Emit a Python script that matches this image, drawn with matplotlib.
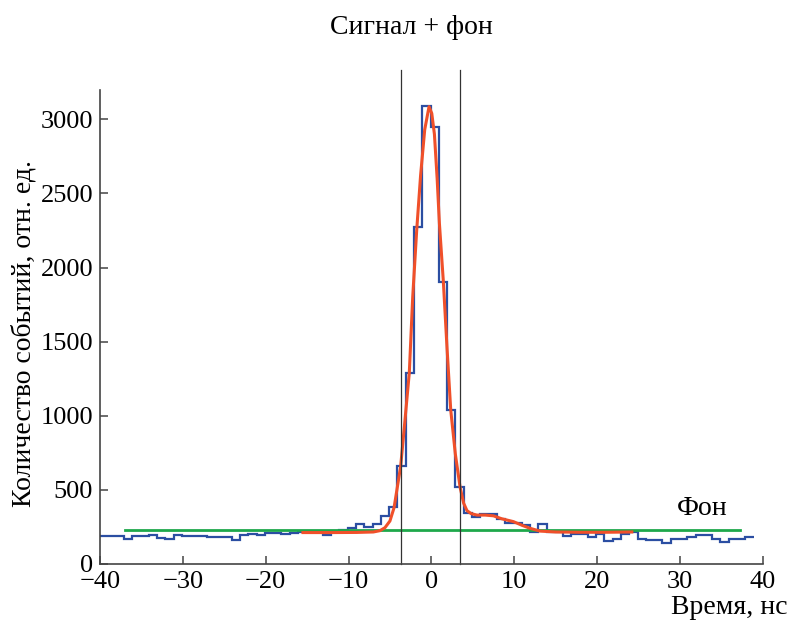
import numpy as np
import matplotlib
matplotlib.use("Agg")
import matplotlib.pyplot as plt

plt.rcParams["font.family"] = ["Liberation Serif", "DejaVu Serif"]
plt.rcParams["font.size"] = 19

# histogram: 1 ns bins, first edge at -40.1 ns
bin_lo = -40.1
bin_width = 1.0
counts = [190, 190, 188, 168, 192, 190, 196, 175, 172, 196,
          188, 186, 186, 185, 183, 180, 160, 198, 200, 198,
          206, 206, 205, 212, 213, 215, 215, 197, 222, 232,
          240, 272, 252, 270, 324, 387, 661, 1291, 2271, 3091,
          2949, 1904, 1039, 518, 342, 316, 336, 336, 302, 279,
          279, 264, 214, 268, 219, 219, 192, 200, 200, 180,
          200, 158, 172, 200, 219, 172, 163, 163, 145, 167,
          167, 184, 195, 195, 172, 150, 167, 172, 184]

# fit curve
fit_t = [-15.5, -12, -9, -7, -6.2, -5.6, -5.0, -4.5, -4.1, -3.7, -3.2, -2.66,
         -2.25, -1.77, -1.3, -0.8, -0.28, 0.05, 0.37, 0.7, 0.97, 1.45, 1.9,
         2.34, 2.9, 3.47, 3.9, 4.3, 4.8, 5.5, 6.5, 7.5, 8.5, 9.9, 11.0, 11.9,
         13.1, 15, 18, 21, 24.2]
fit_n = [212, 212, 213, 216, 225, 245, 290, 380, 520, 661, 960, 1291,
         1800, 2250, 2620, 2930, 3085, 3040, 2900, 2600, 2300, 1904, 1450,
         1039, 740, 518, 410, 360, 340, 330, 330, 325, 305, 286, 260, 241,
         222, 216, 214, 214, 216]

# background level and signal window
bg_level = 230
bg_span = [-37.0, 37.3]
window = [-3.65, 3.5]

fig = plt.figure(figsize=(7.89, 6.25), dpi=100)
ax = fig.add_axes([0.1267, 0.0976, 0.840, 0.759])

edges = bin_lo + bin_width * np.arange(len(counts) + 1)
ax.stairs(counts, edges, color="#2b4ea2", lw=1.6, baseline=None)
ax.plot(bg_span, [bg_level, bg_level], color="#1ea84b", lw=2.0)
ax.plot(fit_t, fit_n, color="#f0502a", lw=2.2)
for xv in window:
    ax.plot([xv, xv], [0, 3330], color="#333333", lw=0.9, clip_on=False)

ax.set_xlim(-40, 40)
ax.set_ylim(0, 3200)
ax.set_xticks(range(-40, 41, 10))
ax.set_yticks(range(0, 3001, 500))
ax.spines["top"].set_visible(False)
ax.spines["right"].set_visible(False)
for s in ("left", "bottom"):
    ax.spines[s].set_color("#444444")
    ax.spines[s].set_linewidth(1.2)
ax.tick_params(direction="in", length=6, width=1.1, color="#444444", pad=5)

fig.text(411 / 789, 1 - 28 / 625, "Сигнал + фон", ha="center", va="center",
         fontsize=20)
ax.text(32.7, 290, "Фон", ha="center", va="bottom", fontsize=20)
fig.text(0.998, 1 - 607 / 625, "Время, нс", ha="right", va="center", fontsize=20)
fig.text(24 / 789, 1 - 333 / 625, "Количество событий, отн. ед.", rotation=90,
         ha="center", va="center", fontsize=20)

fig.savefig("out.png", dpi=100)
